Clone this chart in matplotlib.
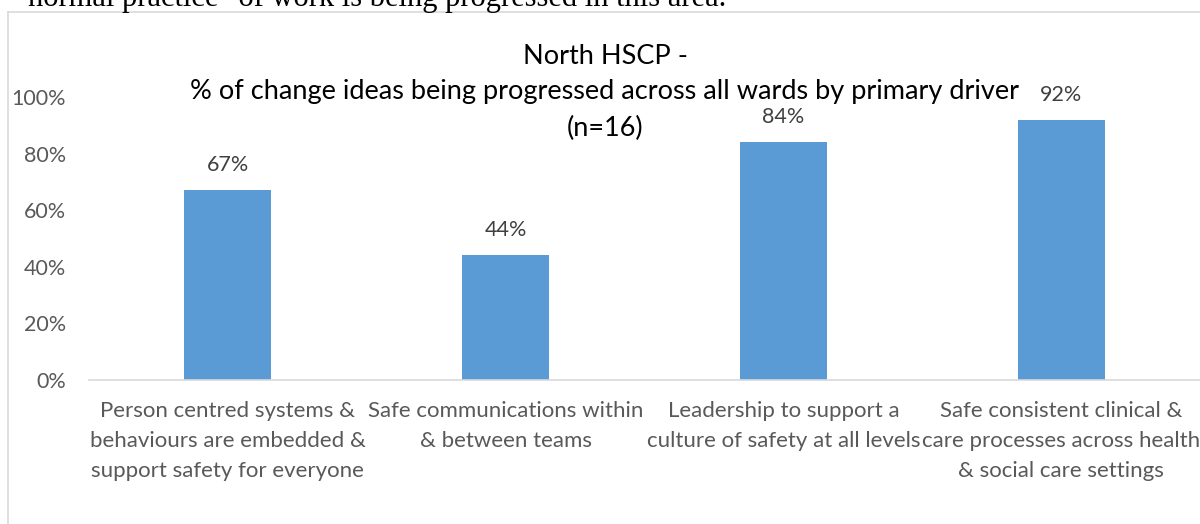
import matplotlib.pyplot as plt
from matplotlib.lines import Line2D

categories = [
    "Person centred systems &\nbehaviours are embedded &\nsupport safety for everyone",
    "Safe communications within\n& between teams",
    "Leadership to support a\nculture of safety at all levels",
    "Safe consistent clinical &\ncare processes across health\n& social care settings",
]
values = [0.67, 0.44, 0.84, 0.92]
labels = ["67%", "44%", "84%", "92%"]
yticks = [0, 0.2, 0.4, 0.6, 0.8, 1.0]
ytick_labels = ["0%", "20%", "40%", "60%", "80%", "100%"]
title_lines = ["North HSCP -",
               "% of change ideas being progressed across all wards by primary driver",
               "(n=16)"]

plt.rcParams['font.family'] = ['Lato', 'DejaVu Sans']
W, H = 1200, 524
fig = plt.figure(figsize=(12, 5.24), dpi=100)

# chart frame (cropped on right and bottom)
grey = '#d9d9d9'
fig.add_artist(Line2D([8 / W, 8 / W], [0, 1 - 12 / H], color=grey, lw=1.2))
fig.add_artist(Line2D([8 / W, 1], [1 - 12 / H, 1 - 12 / H], color=grey, lw=1.2))

# cut-off sentence of the surrounding document
fig.text(28 / W, 1 - 6 / H, 'normal practice" of work is being progressed in this area.',
         family='Liberation Serif', fontsize=22, va='baseline', ha='left', color='black')

ax = fig.add_axes([89 / W, 1 - 380 / H, 1 - 89 / W, (380 - 97) / H])
x = range(len(values))
bars = ax.bar(x, values, width=0.313, color='#5b9bd5')
for xi, v, lab in zip(x, values, labels):
    ax.annotate(lab, (xi, v), xytext=(0, 18), textcoords='offset points',
                ha='center', va='center', fontsize=15.5, color='#404040')

ax.set_xlim(-0.5, len(values) - 0.5)
ax.set_ylim(0, 1)
ax.set_yticks(yticks)
ax.set_yticklabels(ytick_labels, fontsize=15.5, color='#595959')
ax.set_xticks(list(x))
ax.set_xticklabels(categories, fontsize=16, color='#595959', linespacing=1.62)
ax.tick_params(length=0, axis='both')
ax.tick_params(axis='x', pad=15)
ax.tick_params(axis='y', pad=16.5)
for s in ['top', 'right', 'left']:
    ax.spines[s].set_visible(False)
ax.spines['bottom'].set_color(grey)
ax.spines['bottom'].set_linewidth(1.2)
ax.set_facecolor('none')

for ty, line in zip([56, 92, 128], title_lines):
    fig.text(605 / W, 1 - ty / H, line, ha='center', va='center',
             fontsize=19.5, color='black')

fig.savefig('out.png', dpi=100)
